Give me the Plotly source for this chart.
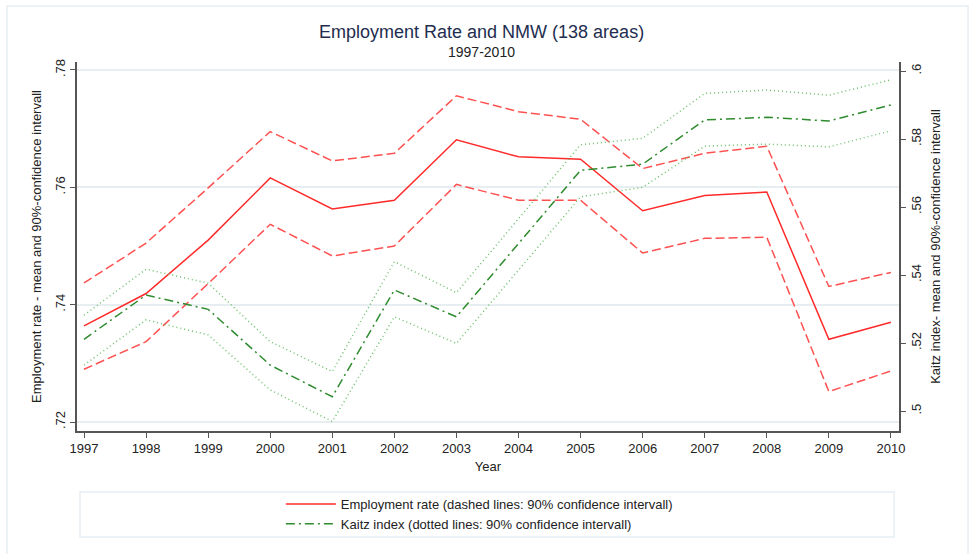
import plotly.graph_objects as go

years = list(range(1997, 2011))

emp_mean = [0.7364, 0.7419, 0.7510, 0.7616, 0.7563, 0.7578, 0.7681, 0.7652, 0.7648, 0.7560, 0.7586, 0.7592, 0.7341, 0.7370]
emp_upper = [0.7437, 0.7505, 0.7599, 0.7695, 0.7645, 0.7658, 0.7756, 0.7729, 0.7716, 0.7632, 0.7658, 0.7670, 0.7431, 0.7455]
emp_lower = [0.7290, 0.7337, 0.7436, 0.7537, 0.7483, 0.7500, 0.7605, 0.7578, 0.7578, 0.7488, 0.7513, 0.7515, 0.7252, 0.7287]

kaitz_mean = [0.5211, 0.5341, 0.5299, 0.5135, 0.5042, 0.5356, 0.5277, 0.5492, 0.5708, 0.5726, 0.5856, 0.5864, 0.5853, 0.5900]
kaitz_upper = [0.5282, 0.5417, 0.5376, 0.5204, 0.5116, 0.5439, 0.5348, 0.5566, 0.5783, 0.5802, 0.5934, 0.5944, 0.5929, 0.5974]
kaitz_lower = [0.5135, 0.5268, 0.5224, 0.5062, 0.4969, 0.5277, 0.5199, 0.5415, 0.5630, 0.5658, 0.5779, 0.5785, 0.5777, 0.5824]

left_ticks = [0.72, 0.74, 0.76, 0.78]
left_ticktext = [".72", ".74", ".76", ".78"]
right_ticks = [0.50, 0.52, 0.54, 0.56, 0.58, 0.60]
right_ticktext = [".5", ".52", ".54", ".56", ".58", ".6"]

FONT = "Liberation Sans, Arial, sans-serif"
RED = "#ff2a2a"
RED_CI = "#ff5050"
GREEN = "#2e8b2e"
GREEN_CI = "#6cc06c"

fig = go.Figure()

fig.add_trace(go.Scatter(x=years, y=emp_upper, mode="lines", showlegend=False,
                         line=dict(color=RED_CI, width=1.5, dash="9px,4px")))
fig.add_trace(go.Scatter(x=years, y=emp_lower, mode="lines", showlegend=False,
                         line=dict(color=RED_CI, width=1.5, dash="9px,4px")))
fig.add_trace(go.Scatter(x=years, y=emp_mean, mode="lines",
                         name="Employment rate (dashed lines: 90% confidence intervall)",
                         line=dict(color=RED, width=1.5)))

fig.add_trace(go.Scatter(x=years, y=kaitz_upper, mode="lines", showlegend=False, yaxis="y2",
                         line=dict(color=GREEN_CI, width=1.5, dash="1px,3px")))
fig.add_trace(go.Scatter(x=years, y=kaitz_lower, mode="lines", showlegend=False, yaxis="y2",
                         line=dict(color=GREEN_CI, width=1.5, dash="1px,3px")))
fig.add_trace(go.Scatter(x=years, y=kaitz_mean, mode="lines", yaxis="y2",
                         name="Kaitz index (dotted lines: 90% confidence intervall)",
                         line=dict(color=GREEN, width=1.5, dash="9px,4px,2px,4px")))

axis_common = dict(showline=True, linecolor="#555555", linewidth=1.5, ticks="outside",
                   ticklen=5, tickcolor="#555555", tickwidth=1.2, zeroline=False,
                   tickfont=dict(family=FONT, size=13, color="#222222"))

fig.update_layout(
    width=972, height=554,
    margin=dict(l=77, r=73, t=62, b=123),
    paper_bgcolor="white", plot_bgcolor="white",
    font=dict(family=FONT, size=13, color="#222222"),
    xaxis=dict(range=[1996.887, 2010.13], tickvals=years, ticktext=[str(y) for y in years],
               showgrid=False,
               title=dict(text="Year", font=dict(family=FONT, size=13, color="#222222"), standoff=7),
               **axis_common),
    yaxis=dict(range=[0.71847, 0.78136], tickvals=left_ticks, ticktext=left_ticktext,
               tickangle=-90, showgrid=True, gridcolor="#e6eef2", gridwidth=1.5,
               title=dict(text="Employment rate - mean and 90%-confidence intervall",
                          font=dict(family=FONT, size=13, color="#222222"), standoff=8),
               **axis_common),
    yaxis2=dict(range=[0.49412, 0.60265], tickvals=right_ticks, ticktext=right_ticktext,
                overlaying="y", side="right", tickangle=-90, showgrid=False,
                title=dict(text="Kaitz index- mean and 90%-confidence intervall",
                           font=dict(family=FONT, size=13, color="#222222"), standoff=8),
                **axis_common),
    legend=dict(x=0.248, y=-0.157, xanchor="left", yanchor="top",
                bgcolor="rgba(0,0,0,0)", borderwidth=0,
                font=dict(family=FONT, size=13, color="#222222"),
                itemwidth=50, tracegroupgap=2),
    annotations=[
        dict(text="Employment Rate and NMW (138 areas)", xref="paper", yref="paper",
             x=0.4927, y=1.082, xanchor="center", yanchor="middle", showarrow=False,
             font=dict(family=FONT, size=18, color="#1e2d50")),
        dict(text="1997-2010", xref="paper", yref="paper",
             x=0.4927, y=1.028, xanchor="center", yanchor="middle", showarrow=False,
             font=dict(family=FONT, size=14, color="#222222")),
    ],
    shapes=[
        dict(type="rect", xref="paper", yref="paper", x0=0.00365, x1=0.994, y0=-0.287, y1=-0.165,
             line=dict(color="#e6eef2", width=1.5), fillcolor="rgba(0,0,0,0)", layer="below"),
        dict(type="rect", xref="paper", yref="paper", x0=-0.0852, x1=1.084, y0=-0.36, y1=1.152,
             line=dict(color="#e6eef2", width=1.5), fillcolor="rgba(0,0,0,0)", layer="below"),
    ],
)

fig.write_html("out.html")
